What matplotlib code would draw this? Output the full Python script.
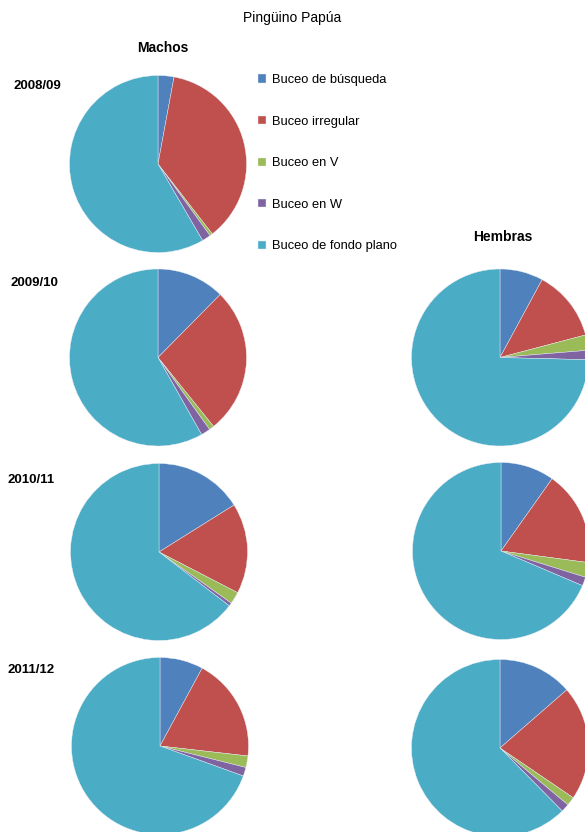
import matplotlib
matplotlib.use("Agg")
import matplotlib.pyplot as plt

plt.rcParams['font.family'] = ['Liberation Sans', 'DejaVu Sans']

categories = ['Buceo de búsqueda', 'Buceo irregular', 'Buceo en V', 'Buceo en W', 'Buceo de fondo plano']
colors = ['#4F81BD', '#C0504D', '#9BBB59', '#8064A2', '#4BACC6']

years = ['2008/09', '2009/10', '2010/11', '2011/12']
machos_0809 = [2.9, 36.6, 0.5, 1.6, 58.4]
machos_0910 = [12.4, 26.8, 0.9, 1.7, 58.2]
machos_1011 = [16.1, 16.5, 2.2, 0.6, 64.6]
machos_1112 = [7.9, 18.9, 2.1, 1.6, 69.5]
hembras_0910 = [7.9, 13.0, 2.8, 1.7, 74.6]
hembras_1011 = [9.8, 17.3, 2.7, 1.6, 68.6]
hembras_1112 = [13.6, 20.9, 1.6, 1.5, 62.4]

W, H = 585, 832
fig = plt.figure(figsize=(W / 100, H / 100), dpi=100)
fig.patch.set_facecolor('white')

R = 88.5


def pie_at(cx, cy, values):
    ax = fig.add_axes([(cx - R) / W, 1 - (cy + R) / H, 2 * R / W, 2 * R / H])
    wedges, _ = ax.pie(values, colors=colors, startangle=90, counterclock=False,
                       radius=1.0, wedgeprops=dict(edgecolor='#e8eef4', linewidth=0.3))
    ax.set_xlim(-1, 1)
    ax.set_ylim(-1, 1)
    ax.set_aspect('equal')
    ax.axis('off')
    return wedges


w0 = pie_at(158, 164, machos_0809)
pie_at(158, 357.5, machos_0910)
pie_at(159, 552, machos_1011)
pie_at(160, 746, machos_1112)
pie_at(500, 357.5, hembras_0910)
pie_at(501, 551, hembras_1011)
pie_at(500, 748, hembras_1112)

fig.text(292 / W, 1 - 18 / H, 'Pingüino Papúa', ha='center', va='center', fontsize=10)
fig.text(163 / W, 1 - 48 / H, 'Machos', ha='center', va='center', fontsize=10, fontweight='bold')
fig.text(503 / W, 1 - 237 / H, 'Hembras', ha='center', va='center', fontsize=10, fontweight='bold')

year_pos = [(13, 86), (10, 283), (7, 480), (8, 670)]
for yr, (x, y) in zip(years, year_pos):
    fig.text(x / W, 1 - y / H, yr, ha='left', va='center', fontsize=9.5, fontweight='bold')

leg = fig.legend(w0, categories, loc='upper left',
                 bbox_to_anchor=(258 / W, 1 - 74 / H), frameon=False,
                 fontsize=9.3, handlelength=0.6, handleheight=0.6,
                 handletextpad=0.45, labelspacing=2.29, borderpad=0, borderaxespad=0)

fig.savefig('out.png', dpi=100, facecolor='white')
